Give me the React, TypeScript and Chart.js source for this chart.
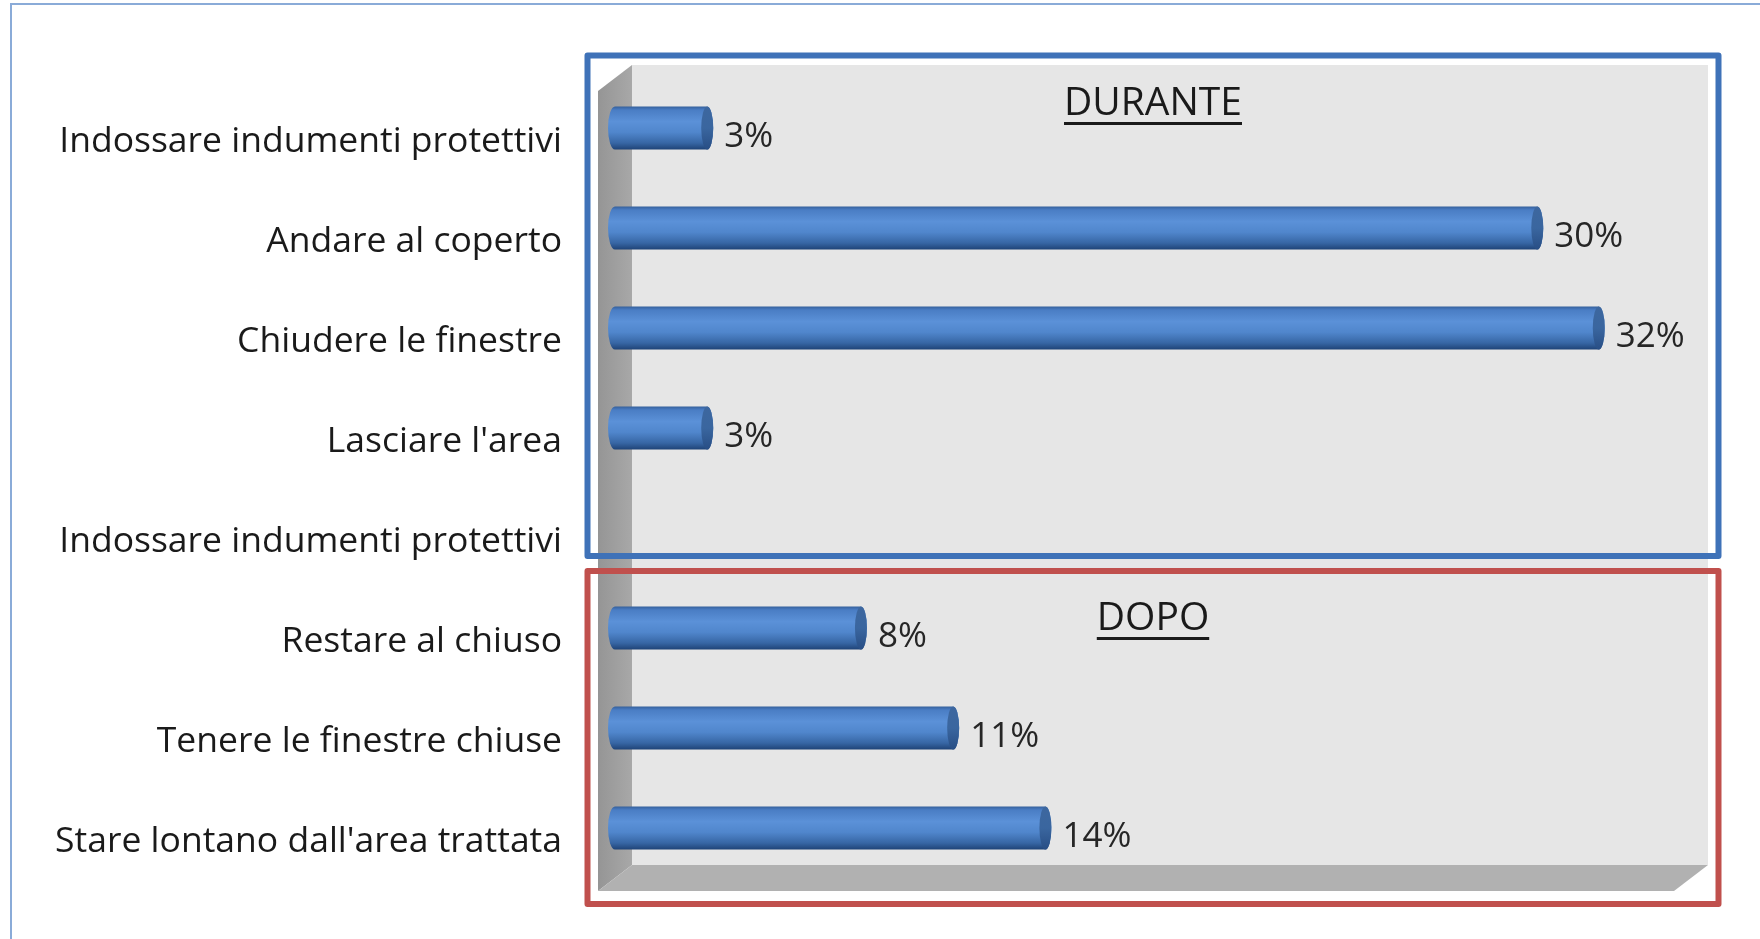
import React, { useEffect, useRef } from 'react';
import { Chart, registerables } from 'chart.js';

Chart.register(...registerables);

const categories: string[] = [
  'Indossare indumenti protettivi',
  'Andare al coperto',
  'Chiudere le finestre',
  "Lasciare l'area",
  'Indossare indumenti protettivi',
  'Restare al chiuso',
  'Tenere le finestre chiuse',
  "Stare lontano dall'area trattata",
];
const values: (number | null)[] = [3, 30, 32, 3, null, 8, 11, 14];
const sectionTitles: string[] = ['DURANTE', 'DOPO'];
const axisMin = 0;
const axisMax = 35;

const FONT = '"Open Sans", Lato, sans-serif';

const decorPlugin = {
  id: 'decor',
  beforeDraw(chart: any) {
    const { ctx, chartArea: a, scales } = chart;
    const ys = scales.y;
    ctx.save();
    // outer frame
    ctx.strokeStyle = '#8aabd8';
    ctx.lineWidth = 2;
    ctx.beginPath();
    ctx.moveTo(11, chart.height + 5);
    ctx.lineTo(11, 4);
    ctx.lineTo(chart.width + 5, 4);
    ctx.stroke();

    // 3D walls
    const dx = 17, dy = 13;
    const fl = a.left - dx, fr = a.right - dx, ft = a.top + dy, fb = a.bottom + dy;
    const bl = a.left + dx, br = a.right + dx, bt = a.top - dy, bb = a.bottom - dy;
    ctx.fillStyle = '#e6e6e6';
    ctx.fillRect(bl, bt, br - bl, bb - bt);
    // side wall
    const sg = ctx.createLinearGradient(fl, 0, bl, 0);
    sg.addColorStop(0, '#959595');
    sg.addColorStop(1, '#a8a8a8');
    ctx.fillStyle = sg;
    ctx.beginPath();
    ctx.moveTo(fl, ft);
    ctx.lineTo(bl, bt);
    ctx.lineTo(bl, bb);
    ctx.lineTo(fl, fb);
    ctx.closePath();
    ctx.fill();
    // floor
    ctx.fillStyle = '#b1b1b1';
    ctx.beginPath();
    ctx.moveTo(fl, fb);
    ctx.lineTo(bl, bb);
    ctx.lineTo(br, bb);
    ctx.lineTo(fr, fb);
    ctx.closePath();
    ctx.fill();

    // section boxes
    const row4 = ys.getPixelForValue(4);
    const bxL = a.left - 27.5, bxR = a.right + 27.5;
    ctx.lineJoin = 'round';
    ctx.lineWidth = 6;
    ctx.strokeStyle = '#3f72b8';
    ctx.strokeRect(bxL, a.top - 22.5, bxR - bxL, row4 + 28 - (a.top - 22.5));
    ctx.strokeStyle = '#c0504d';
    ctx.strokeRect(bxL, row4 + 43, bxR - bxL, a.bottom + 26 - (row4 + 43));
    ctx.restore();
  },
  afterDatasetsDraw(chart: any) {
    const { ctx, chartArea: a, scales } = chart;
    const ys = scales.y;
    const meta = chart.getDatasetMeta(0);
    ctx.save();
    meta.data.forEach((el: any, i: number) => {
      const v = values[i];
      if (v === null || v === undefined) return;
      const { x, y, base, height } = el.getProps(['x', 'y', 'base', 'height'], true);
      const h = height;
      const top = y - h / 2;
      const bottom = y + h / 2;
      const rxL = 7, rxR = 6;
      const g = ctx.createLinearGradient(0, top, 0, bottom);
      g.addColorStop(0, '#35609c');
      g.addColorStop(0.08, '#4a7dc4');
      g.addColorStop(0.35, '#5b91d8');
      g.addColorStop(0.6, '#5086cc');
      g.addColorStop(0.85, '#3766a4');
      g.addColorStop(1, '#1f4377');
      ctx.fillStyle = g;
      ctx.beginPath();
      ctx.moveTo(base, top);
      ctx.lineTo(x, top);
      ctx.ellipse(x, y, rxR, h / 2, 0, -Math.PI / 2, Math.PI / 2, false);
      ctx.lineTo(base, bottom);
      ctx.ellipse(base, y, rxL, h / 2, 0, Math.PI / 2, (3 * Math.PI) / 2, false);
      ctx.closePath();
      ctx.fill();
      // end cap face
      const cg = ctx.createLinearGradient(0, top, 0, bottom);
      cg.addColorStop(0, '#3d679f');
      cg.addColorStop(0.5, '#3a669f');
      cg.addColorStop(1, '#284e85');
      ctx.fillStyle = cg;
      ctx.beginPath();
      ctx.ellipse(x, y, rxR, h / 2, 0, 0, Math.PI * 2);
      ctx.fill();
      // value label
      ctx.fillStyle = '#262626';
      ctx.font = `35px ${FONT}`;
      ctx.textAlign = 'left';
      ctx.textBaseline = 'middle';
      ctx.fillText(`${v}%`, x + rxR + 11, y + 9);
    });

    // section titles
    const cx = (a.left + a.right) / 2;
    const baselines = [ys.getPixelForValue(0) - 13, ys.getPixelForValue(5) + 2];
    ctx.font = `39px ${FONT}`;
    ctx.textAlign = 'center';
    ctx.textBaseline = 'alphabetic';
    ctx.fillStyle = '#1a1a1a';
    sectionTitles.forEach((t, k) => {
      const by = baselines[k];
      ctx.fillText(t, cx, by);
      const w = ctx.measureText(t).width;
      ctx.fillRect(cx - w / 2, by + 7, w, 3);
    });
    ctx.restore();
  },
};

export default function App() {
  const ref = useRef<HTMLCanvasElement | null>(null);
  useEffect(() => {
    document.body.style.margin = '0';
    document.body.style.background = '#ffffff';
    const canvas = ref.current;
    if (!canvas) return;
    const chart = new Chart(canvas, {
      type: 'bar',
      data: {
        labels: categories,
        datasets: [
          {
            data: values as any,
            backgroundColor: 'rgba(0,0,0,0)',
            borderWidth: 0,
            barPercentage: 0.43,
            categoryPercentage: 1,
          },
        ],
      },
      options: {
        indexAxis: 'y',
        responsive: false,
        maintainAspectRatio: false,
        animation: false,
        layout: { padding: { left: 0, right: 69, top: 78, bottom: 61 } },
        scales: {
          x: { display: false, min: axisMin, max: axisMax },
          y: {
            grid: { display: false, drawTicks: true, tickLength: 53 },
            border: { display: false },
            ticks: {
              color: '#1a1a1a',
              font: { family: FONT, size: 35.5 },
              padding: 0,
              labelOffset: 14,
              autoSkip: false,
            },
            afterFit: (s: any) => {
              s.width = 615;
            },
          },
        },
        plugins: { legend: { display: false }, tooltip: { enabled: false } },
      },
      plugins: [decorPlugin],
    });
    return () => chart.destroy();
  }, []);
  return (
    <div style={{ width: 1760, height: 939, overflow: 'hidden' }}>
      <canvas ref={ref} width={1760} height={939} style={{ display: 'block' }} />
    </div>
  );
}
